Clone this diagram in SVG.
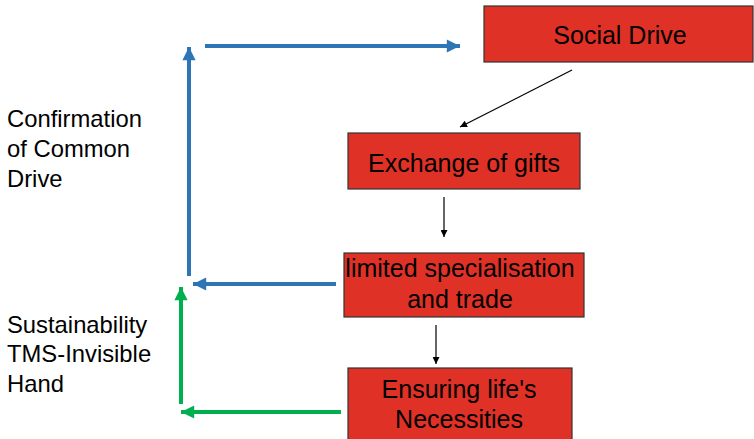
<svg xmlns="http://www.w3.org/2000/svg" width="754" height="439" viewBox="0 0 754 439">
<style>
.box{fill:#E03127;stroke:#333;stroke-width:1.2}
.bt{font-family:"Liberation Sans",Arial,sans-serif;font-size:25px;fill:#000;text-anchor:middle}
.lt{font-family:"Liberation Sans",Arial,sans-serif;font-size:23.8px;fill:#000}
.blue{stroke:#2E75B6;stroke-width:4;fill:none}
.green{stroke:#00B050;stroke-width:4;fill:none}
.blk{stroke:#000;stroke-width:1.2;fill:none}
</style>
<defs>
<marker id="ab" viewBox="0 0 10 10" refX="10" refY="5" markerWidth="3.5" markerHeight="3.3" markerUnits="strokeWidth" orient="auto"><path d="M0,0L10,5L0,10z" fill="#2E75B6"/></marker>
<marker id="ag" viewBox="0 0 10 10" refX="10" refY="5" markerWidth="3.5" markerHeight="3.3" markerUnits="strokeWidth" orient="auto"><path d="M0,0L10,5L0,10z" fill="#00B050"/></marker>
<marker id="ak" viewBox="0 0 10 10" refX="10" refY="5" markerWidth="9" markerHeight="7" markerUnits="userSpaceOnUse" orient="auto"><path d="M0,0L10,5L0,10z" fill="#000"/></marker>
</defs>
<g id="labels">
<text class="lt" x="7" y="127">Confirmation</text>
<text class="lt" x="7" y="157">of Common</text>
<text class="lt" x="7" y="187">Drive</text>
<text class="lt" x="7" y="333">Sustainability</text>
<text class="lt" x="7" y="362">TMS-Invisible</text>
<text class="lt" x="7" y="392">Hand</text>
</g>
<g id="n1"><rect class="box" x="484" y="6" width="269" height="56"/><text class="bt" x="620" y="44">Social Drive</text></g>
<g id="n2"><rect class="box" x="348" y="133" width="232" height="56"/><text class="bt" x="464" y="172">Exchange of gifts</text></g>
<g id="n3"><rect class="box" x="344" y="253" width="240" height="64"/><text class="bt" x="460" y="277">limited specialisation</text><text class="bt" x="460" y="308">and trade</text></g>
<g id="n4"><rect class="box" x="348" y="368" width="224" height="75"/><text class="bt" x="459" y="398">Ensuring life's</text><text class="bt" x="459" y="428">Necessities</text></g>
<g id="connectors">
<line class="blk" x1="572" y1="70" x2="460" y2="127" marker-end="url(#ak)"/>
<line class="blk" x1="444" y1="197" x2="444" y2="237" marker-end="url(#ak)"/>
<line class="blk" x1="436" y1="325" x2="436" y2="364" marker-end="url(#ak)"/>
<line class="blue" x1="205" y1="46" x2="460" y2="46" marker-end="url(#ab)"/>
<line class="blue" x1="189" y1="276" x2="189" y2="47" marker-end="url(#ab)"/>
<line class="blue" x1="336" y1="284" x2="193" y2="284" marker-end="url(#ab)"/>
<line class="green" x1="341" y1="412" x2="181" y2="412" marker-end="url(#ag)"/>
<line class="green" x1="181" y1="404" x2="181" y2="287" marker-end="url(#ag)"/>
</g>
</svg>
